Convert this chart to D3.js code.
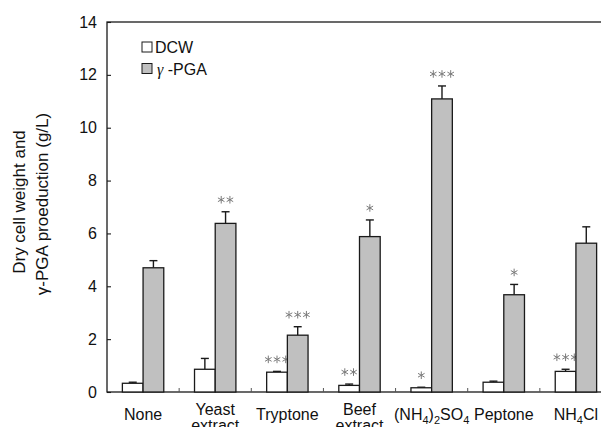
<!DOCTYPE html>
<html><head><meta charset="utf-8">
<script src="https://cdn.jsdelivr.net/npm/d3@7"></script>
<style>html,body{margin:0;padding:0;background:#fff;}svg{display:block;font-family:"Liberation Sans",Arial,sans-serif;}</style>
</head><body>
<svg id="chart" width="601" height="427"></svg>
<script>
const categories = ["None", "Yeast extract", "Tryptone", "Beef extract", "(NH4)2SO4", "Peptone", "NH4Cl"];
const dcw = [0.33, 0.86, 0.75, 0.25, 0.16, 0.37, 0.78];
const dcwErr = [0.04, 0.41, 0.03, 0.05, 0.02, 0.04, 0.08];
const pga = [4.70, 6.38, 2.15, 5.88, 11.09, 3.68, 5.63];
const pgaErr = [0.27, 0.44, 0.32, 0.63, 0.49, 0.39, 0.62];
const dcwSig = ["", "", "***", "**", "*", "", "***"];
const pgaSig = ["", "**", "***", "*", "***", "*", ""];
const yTicks = [0, 2, 4, 6, 8, 10, 12, 14];
const seriesNames = ["DCW", "γ -PGA"];

const svg = d3.select("#chart");
const L = 107, R = 612, T = 22, B = 392;
const x = d3.scaleBand().domain(categories).range([L, R]).paddingInner(0).paddingOuter(0);
const x1 = d3.scaleBand().domain(["dcw", "pga"]).range([0, x.bandwidth()]).paddingInner(0).paddingOuter(0.743);
const y = d3.scaleLinear().domain([0, 14]).range([B, T]);
const ink = "#1a1a1a";

const rows = categories.map((c, i) => ({c, i}));
const series = [
  {key: "dcw", vals: dcw, errs: dcwErr, sig: dcwSig, fill: "#ffffff"},
  {key: "pga", vals: pga, errs: pgaErr, sig: pgaSig, fill: "#c0c0c0"}
];

// frame
svg.append("rect").attr("x", L).attr("y", T).attr("width", R - L).attr("height", B - T)
  .attr("fill", "none").attr("stroke", ink).attr("stroke-width", 1.3);

// y axis
const yAxis = d3.axisLeft(y).tickValues(yTicks).tickSize(-4).tickPadding(10).tickFormat(d3.format("d"));
const gy = svg.append("g").attr("transform", `translate(${L},0)`).call(yAxis);
gy.select(".domain").remove();
gy.selectAll(".tick line").attr("stroke", ink).attr("stroke-width", 1.1);
gy.selectAll(".tick text").attr("font-size", 16).attr("font-family", "Liberation Sans, Arial, sans-serif").attr("fill", "#111");

// x category separators (ticks pointing up)
svg.append("g").selectAll("line").data(categories.slice(1)).join("line")
  .attr("x1", d => x(d)).attr("x2", d => x(d)).attr("y1", B).attr("y2", B - 4)
  .attr("stroke", "#555").attr("stroke-width", 1);

const star = d3.symbol().type(d3.symbolAsterisk).size(40);

// bars
series.forEach(s => {
  const cxOf = d => x(d.c) + x1(s.key) + x1.bandwidth() / 2;
  const topOf = d => y(s.vals[d.i] + s.errs[d.i]);
  const g = svg.append("g");
  g.selectAll("line.err").data(rows).join("line").attr("class", "err")
    .attr("x1", cxOf).attr("x2", cxOf)
    .attr("y1", d => y(s.vals[d.i])).attr("y2", topOf)
    .attr("stroke", ink).attr("stroke-width", 1.4);
  g.selectAll("line.cap").data(rows).join("line").attr("class", "cap")
    .attr("x1", d => cxOf(d) - 4).attr("x2", d => cxOf(d) + 4)
    .attr("y1", topOf).attr("y2", topOf)
    .attr("stroke", ink).attr("stroke-width", 1.4);
  g.selectAll("rect").data(rows).join("rect")
    .attr("x", d => x(d.c) + x1(s.key)).attr("width", x1.bandwidth())
    .attr("y", d => y(s.vals[d.i])).attr("height", d => B - y(s.vals[d.i]))
    .attr("fill", s.fill).attr("stroke", ink).attr("stroke-width", 1.3);
  // significance stars
  const starData = [];
  rows.forEach(d => {
    const n = s.sig[d.i].length;
    for (let k = 0; k < n; k++) {
      starData.push({x: cxOf(d) + (k - (n - 1) / 2) * 8.7, y: topOf(d) - 12});
    }
  });
  g.selectAll("path.star").data(starData).join("path").attr("class", "star")
    .attr("d", star).attr("transform", d => `translate(${d.x},${d.y})`)
    .attr("fill", "none").attr("stroke", "#7a7a7a").attr("stroke-width", 1);
});

// x labels
const xl = svg.append("g").attr("font-size", 16).attr("fill", "#111");
categories.forEach(c => {
  const cx = x(c) + x.bandwidth() / 2;
  const words = c.split(" ");
  const t = xl.append("text").attr("text-anchor", "middle").attr("x", cx);
  if (words.length === 2) {
    t.append("tspan").attr("x", cx).attr("y", 415).text(words[0]);
    t.append("tspan").attr("x", cx).attr("y", 431).text(words[1]);
  } else if (/^\(|^NH/.test(c)) {
    t.attr("y", 420);
    let prevSub = false;
    c.split(/(\d)/).filter(p => p).forEach(p => {
      if (/\d/.test(p)) {
        t.append("tspan").attr("font-size", 11).attr("dy", 4).text(p);
        prevSub = true;
      } else {
        t.append("tspan").attr("dy", prevSub ? -4 : 0).text(p);
        prevSub = false;
      }
    });
  } else {
    t.attr("y", 420).text(c);
  }
});

// y label
const yl = svg.append("g").attr("font-size", 17).attr("fill", "#111");
yl.append("text").attr("transform", "translate(25,202) rotate(-90)").attr("text-anchor", "middle").text("Dry cell weight and");
yl.append("text").attr("transform", "translate(48,204) rotate(-90)").attr("text-anchor", "middle").text("γ-PGA proeduction (g/L)");

// legend
const lg = svg.append("g");
series.forEach((s, i) => {
  lg.append("rect").attr("x", 142).attr("y", 42 + i * 21.5).attr("width", 10).attr("height", 10)
    .attr("fill", s.fill).attr("stroke", ink).attr("stroke-width", 1);
});
lg.append("text").attr("x", 155).attr("y", 53).attr("font-size", 16).attr("fill", "#111").text(seriesNames[0]);
const lt = lg.append("text").attr("x", 157).attr("y", 74.5).attr("font-size", 16).attr("fill", "#111");
lt.append("tspan").attr("font-family", "Liberation Serif, serif").attr("font-style", "italic").text(seriesNames[1].split(" ")[0]);
lt.append("tspan").text(" " + seriesNames[1].split(" ")[1]);
</script>
</body></html>
